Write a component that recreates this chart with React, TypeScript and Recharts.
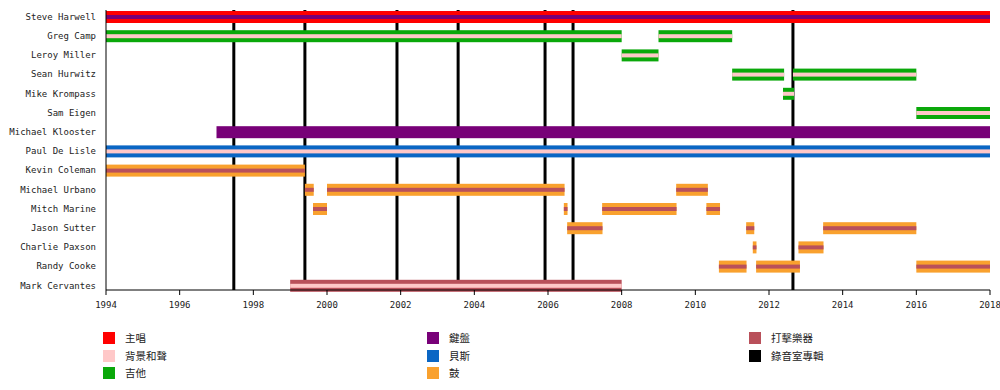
import React from 'react'
import { BarChart, Bar, XAxis, YAxis, ReferenceLine } from 'recharts'

const members = [
  'Steve Harwell', 'Greg Camp', 'Leroy Miller', 'Sean Hurwitz', 'Mike Krompass',
  'Sam Eigen', 'Michael Klooster', 'Paul De Lisle', 'Kevin Coleman', 'Michael Urbano',
  'Mitch Marine', 'Jason Sutter', 'Charlie Paxson', 'Randy Cooke', 'Mark Cervantes',
]

// member, from, to, main role, stripe role
const spans: [string, number, number, string, string | null][] = [
  ['Steve Harwell', 1994, 2018, 'vocals', 'keys'],
  ['Greg Camp', 1994, 2008.0, 'guitar', 'bv'],
  ['Greg Camp', 2009.0, 2011.0, 'guitar', 'bv'],
  ['Leroy Miller', 2008.0, 2009.0, 'guitar', 'bv'],
  ['Sean Hurwitz', 2011.0, 2012.41, 'guitar', 'bv'],
  ['Sean Hurwitz', 2012.65, 2016.0, 'guitar', 'bv'],
  ['Mike Krompass', 2012.38, 2012.68, 'guitar', 'bv'],
  ['Sam Eigen', 2016.0, 2018, 'guitar', 'bv'],
  ['Michael Klooster', 1997.0, 2018, 'keys', null],
  ['Paul De Lisle', 1994, 2018, 'bass', 'bv'],
  ['Kevin Coleman', 1994, 1999.4, 'drums', 'perc'],
  ['Michael Urbano', 1999.4, 1999.64, 'drums', 'perc'],
  ['Michael Urbano', 2000.0, 2006.45, 'drums', 'perc'],
  ['Michael Urbano', 2009.48, 2010.34, 'drums', 'perc'],
  ['Mitch Marine', 1999.62, 2000.0, 'drums', 'perc'],
  ['Mitch Marine', 2006.43, 2006.53, 'drums', 'perc'],
  ['Mitch Marine', 2007.47, 2009.49, 'drums', 'perc'],
  ['Mitch Marine', 2010.3, 2010.67, 'drums', 'perc'],
  ['Jason Sutter', 2006.52, 2007.48, 'drums', 'perc'],
  ['Jason Sutter', 2011.38, 2011.6, 'drums', 'perc'],
  ['Jason Sutter', 2013.47, 2016.0, 'drums', 'perc'],
  ['Charlie Paxson', 2011.56, 2011.66, 'drums', 'perc'],
  ['Charlie Paxson', 2012.8, 2013.48, 'drums', 'perc'],
  ['Randy Cooke', 2010.64, 2011.39, 'drums', 'perc'],
  ['Randy Cooke', 2011.65, 2012.84, 'drums', 'perc'],
  ['Randy Cooke', 2016.0, 2018, 'drums', 'perc'],
  ['Mark Cervantes', 1999.0, 2008.0, 'perc', 'bv'],
]

const albumYears = [1997.47, 1999.4, 2001.9, 2003.56, 2005.92, 2006.68, 2012.65]
const yearTicks = [1994, 1996, 1998, 2000, 2002, 2004, 2006, 2008, 2010, 2012, 2014, 2016, 2018]

const roleKeys = ['vocals', 'bv', 'guitar', 'keys', 'bass', 'drums', 'perc', 'album']
const roleLabels = ['主唱', '背景和聲', '吉他', '鍵盤', '貝斯', '鼓', '打擊樂器', '錄音室專輯']

const roleColor: Record<string, string> = {
  vocals: '#ff0000',
  bv: '#ffc8c8',
  guitar: '#0aa80a',
  keys: '#780078',
  bass: '#0a66c4',
  drums: '#f9a12e',
  perc: '#b9505a',
  album: '#000000',
}

const maxSegs = 4

const rows = members.map((name) => {
  const row: any = { name }
  spans.filter((s) => s[0] === name).forEach((s, k) => {
    row[`s${k}`] = [s[1], s[2]]
    row[`m${k}`] = s[3]
    row[`i${k}`] = s[4]
  })
  return row
})

const monoFont = '"DejaVu Sans Mono", monospace'
const W = 1000
const H = 320
const chartMargin = { top: 10, right: 10, bottom: 0, left: 0 }

const segShape = (k: number, visible: boolean) => (props: any) => {
  const { x, y, width, height, payload } = props
  const main = payload?.[`m${k}`]
  if (!visible || !main || !width) return <g />
  const inner = payload[`i${k}`]
  return (
    <g>
      <rect x={x} y={y} width={width} height={height} fill={roleColor[main]} />
      {inner && (
        <rect x={x} y={y + height / 3} width={width} height={height / 3} fill={roleColor[inner]} />
      )}
    </g>
  )
}

// plain text tick so long names don't wrap
const NameTick = ({ x, y, payload }: any) => (
  <text x={x} y={y} dy="0.35em" textAnchor="end" fill="#222" fontSize={9} fontFamily={monoFont}>
    {payload.value}
  </text>
)

// both layers use the same axes + bars so the scales line up
const layer = (show: boolean) => [
  <XAxis
    key="x"
    type="number"
    domain={[1994, 2018]}
    ticks={yearTicks}
    interval={0}
    height={30}
    tickSize={5}
    tickMargin={7}
    stroke={show ? '#000' : 'none'}
    tickLine={show}
    axisLine={show}
    tick={show ? { fill: '#222', fontSize: 9, fontFamily: monoFont } : false}
  />,
  <YAxis
    key="y"
    type="category"
    dataKey="name"
    width={106}
    padding={{ top: -3, bottom: -5 }}
    tickLine={false}
    tickSize={6}
    tickMargin={4}
    interval={0}
    stroke={show ? '#000' : 'none'}
    axisLine={show}
    tick={show ? <NameTick /> : false}
  />,
  ...Array.from({ length: maxSegs }, (_, k) => (
    <Bar
      key={`b${k}`}
      dataKey={`s${k}`}
      barSize={12}
      isAnimationActive={false}
      shape={segShape(k, show)}
    />
  )),
]

function LegendBlock() {
  const colLeft = [103, 427, 749]
  return (
    <div style={{ position: 'absolute', left: 0, top: 0 }}>
      {roleKeys.map((key, i) => {
        const col = Math.floor(i / 3)
        const r = i % 3
        const top = 332 + r * 17.5
        return (
          <div key={key} style={{ position: 'absolute', left: colLeft[col], top, display: 'flex', alignItems: 'center', whiteSpace: 'nowrap' }}>
            <div style={{ width: 12, height: 12, background: roleColor[key] }} />
            <span style={{
              marginLeft: 10, fontFamily: '"Noto Sans CJK TC", sans-serif',
              fontSize: 10.5, color: '#222', lineHeight: '12px',
            }}>
              {roleLabels[i]}
            </span>
          </div>
        )
      })}
    </div>
  )
}

export default function App() {
  return (
    <div style={{ position: 'absolute', left: 0, top: 0, width: W, height: 390, background: '#fff' }}>
      {/* album lines sit underneath the member bars */}
      <div style={{ position: 'absolute', left: 0, top: 0 }}>
        <BarChart width={W} height={H} data={rows} layout="vertical" barGap={-12} margin={chartMargin}>
          {layer(false)}
          {albumYears.map((yr) => (
            <ReferenceLine key={yr} x={yr} stroke={roleColor.album} strokeWidth={3} ifOverflow="visible" />
          ))}
        </BarChart>
      </div>
      <div style={{ position: 'absolute', left: 0, top: 0 }}>
        <BarChart width={W} height={H} data={rows} layout="vertical" barGap={-12} margin={chartMargin}>
          {layer(true)}
        </BarChart>
      </div>
      <LegendBlock />
    </div>
  )
}
